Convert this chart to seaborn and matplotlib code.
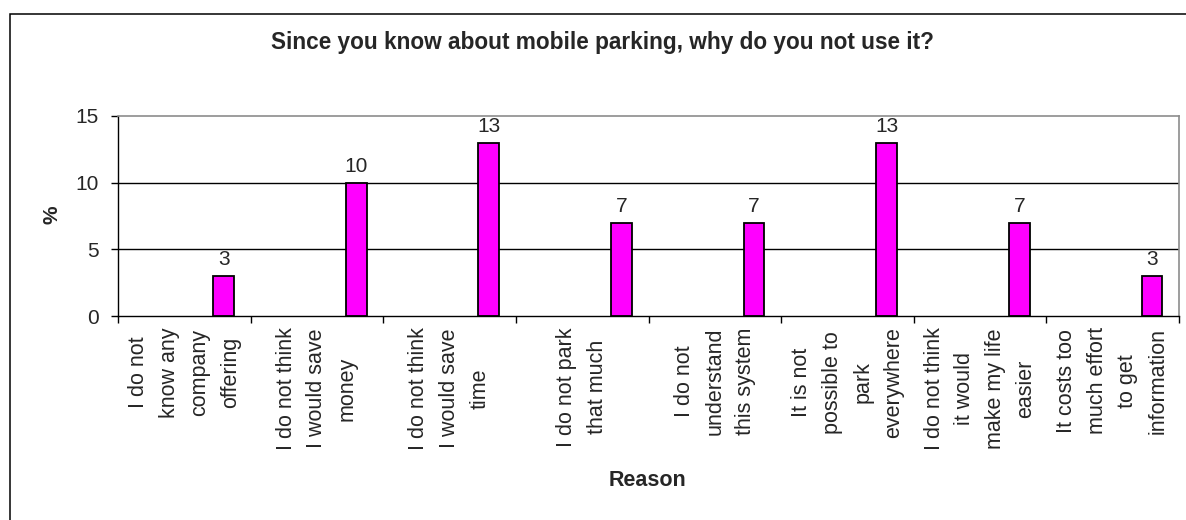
import matplotlib
matplotlib.use("Agg")
import matplotlib.pyplot as plt
from matplotlib.patches import Rectangle
import numpy as np
import pandas as pd
import seaborn as sns

# Survey answers: reasons for not using mobile parking
reasons = [
    "I do not\nknow any\ncompany\noffering",
    "I do not think\nI would save\nmoney",
    "I do not think\nI would save\ntime",
    "I do not park\nthat much",
    "I do not\nunderstand\nthis system",
    "It is not\npossible to\npark\neverywhere",
    "I do not think\nit would\nmake my life\neasier",
    "It costs too\nmuch effort\nto get\ninformation",
]
percent = [3, 10, 13, 7, 7, 13, 7, 3]
y_ticks = [0, 5, 10, 15]

title = "Since you know about mobile parking, why do you not use it?"
x_title = "Reason"
y_title = "%"

sns.set_style("white")
plt.rcParams["font.family"] = ["Liberation Sans", "DejaVu Sans"]

W, H = 1186, 520
fig = plt.figure(figsize=(W / 100, H / 100), dpi=100)
ax = fig.add_axes([118 / W, 1 - 316 / H, (1179 - 118) / W, (316 - 116) / H])

# bars sit toward the right side of each category slot
slot = np.arange(len(reasons))
bar_offset = 0.296
df = pd.DataFrame({"pos": slot + bar_offset, "value": percent})
sns.barplot(data=df, x="pos", y="value", native_scale=True, width=0.157,
            color="#FF00FF", saturation=1, edgecolor="black", linewidth=1.3,
            ax=ax, zorder=3)

for cont in ax.containers:
    ax.bar_label(cont, fmt="%g", padding=5, fontsize=15)

ax.set_xlim(-0.5, len(reasons) - 0.5)
ax.set_ylim(0, 15)

# category boundaries carry the tick marks, centres carry the labels
ax.set_xticks(np.arange(len(reasons) + 1) - 0.5)
ax.set_xticklabels([])
ax.set_xticks(slot, minor=True)
ax.set_xticklabels(reasons, minor=True, rotation=90, fontsize=15.5,
                   multialignment="center", linespacing=1.6)
ax.tick_params(axis="x", which="major", direction="out", length=5,
               width=1, color="black", bottom=True)
ax.tick_params(axis="x", which="minor", length=0, pad=8, bottom=True)

ax.set_yticks(y_ticks)
ax.set_yticklabels([str(v) for v in y_ticks], fontsize=15)
ax.tick_params(axis="y", direction="out", length=5, width=1,
               color="black", left=True, pad=9)

ax.set_xlabel("")
ax.set_ylabel("")

ax.set_axisbelow(True)
ax.yaxis.grid(True, color="black", linewidth=1)
ax.xaxis.grid(False)
for i, gl in enumerate(ax.get_ygridlines()):
    if y_ticks[i] in (0, 15):
        gl.set_visible(False)

for side in ("top", "right"):
    ax.spines[side].set_color("#8c8c8c")
    ax.spines[side].set_linewidth(1.2)
for side in ("left", "bottom"):
    ax.spines[side].set_color("black")
    ax.spines[side].set_linewidth(1)

fig.text(602 / W, 1 - 43 / H, title, ha="center", va="center",
         fontsize=16.3, fontweight="bold")
fig.text(52 / W, 1 - 215 / H, y_title, ha="center", va="center",
         rotation=90, fontsize=15, fontweight="bold")
fig.text(648 / W, 1 - 480 / H, x_title, ha="center", va="center",
         fontsize=15.5, fontweight="bold")

# chart frame
fig.patches.append(Rectangle((10 / W, -0.1), 1.2, 1 - 14 / H + 0.1,
                             transform=fig.transFigure, fill=False,
                             edgecolor="black", linewidth=1.1))

fig.savefig("out.png", dpi=100, facecolor="white")
